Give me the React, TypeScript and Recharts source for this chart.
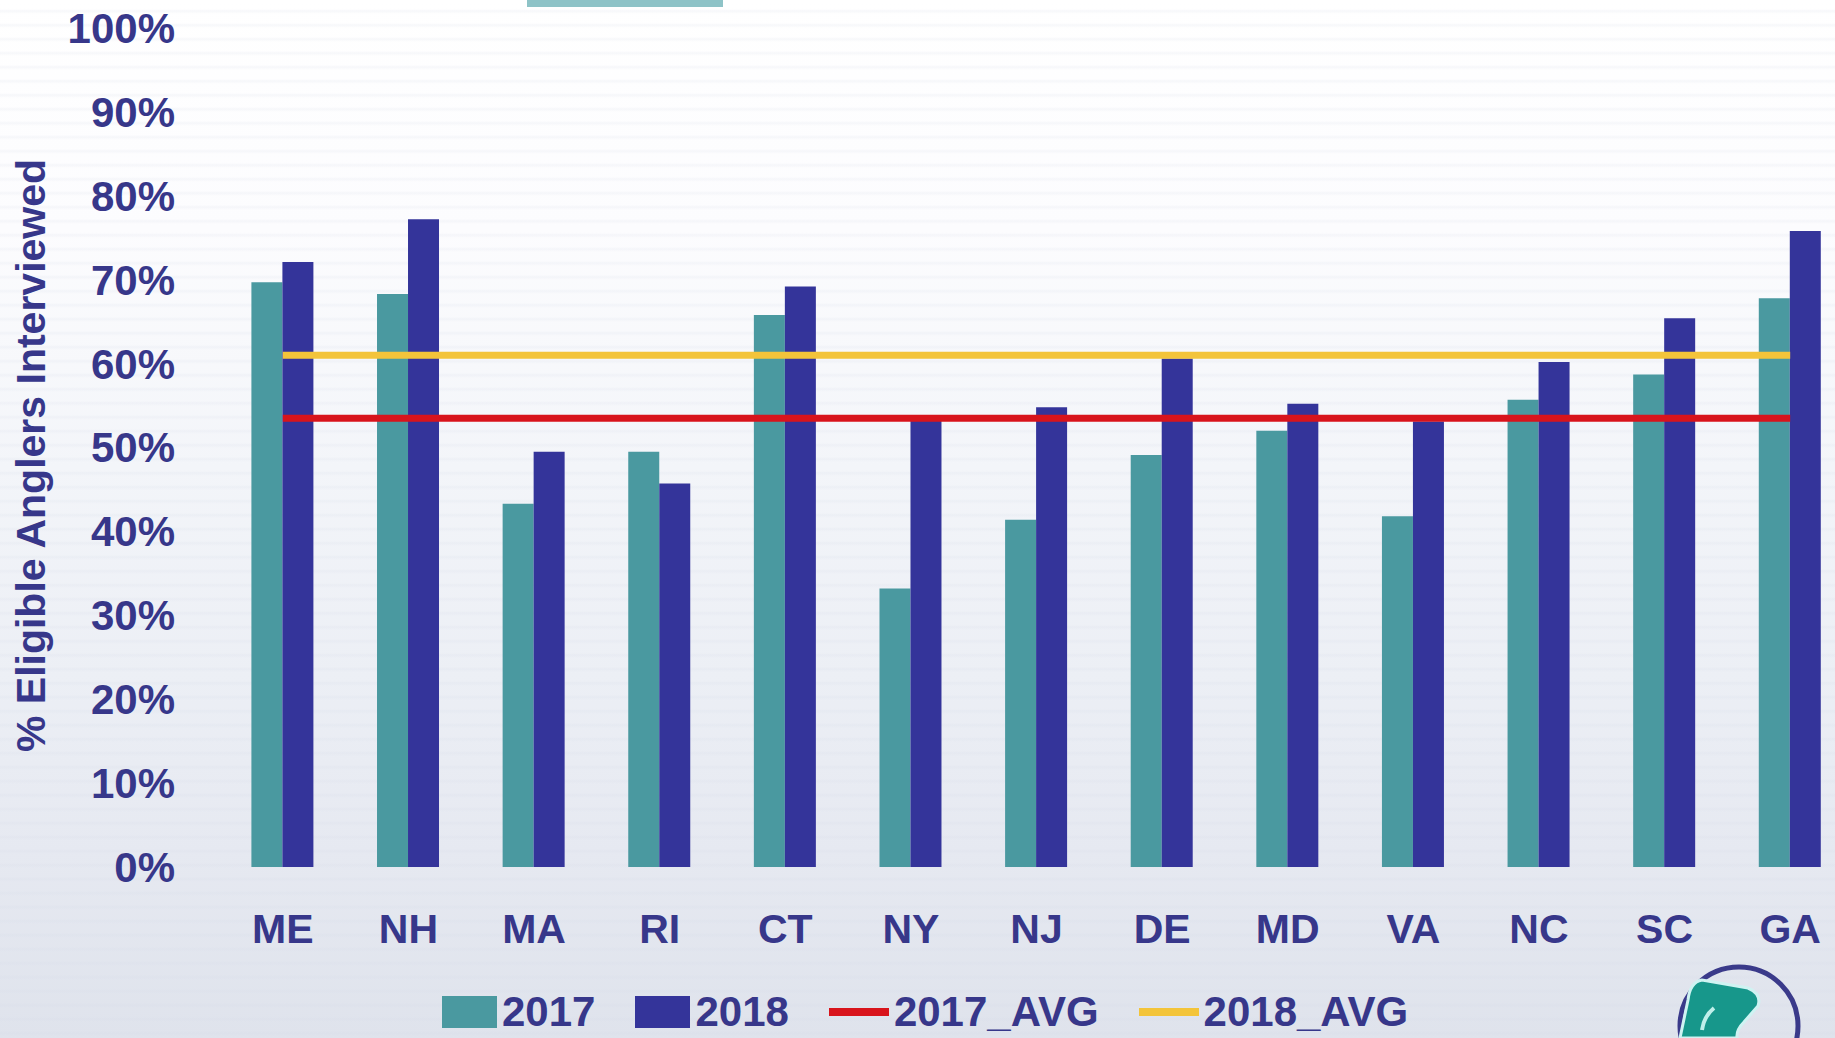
import React from 'react';
import { ComposedChart, Bar, Line, XAxis, YAxis } from 'recharts';

const states = ['ME', 'NH', 'MA', 'RI', 'CT', 'NY', 'NJ', 'DE', 'MD', 'VA', 'NC', 'SC', 'GA'];
const values2017 = [69.7, 68.3, 43.3, 49.5, 65.8, 33.2, 41.4, 49.1, 52.0, 41.8, 55.7, 58.7, 67.8];
const values2018 = [72.1, 77.2, 49.5, 45.7, 69.2, 53.3, 54.8, 60.6, 55.2, 53.1, 60.2, 65.4, 75.8];
const avg2017 = 53.5;
const avg2018 = 61.0;
const yTicks = [0, 10, 20, 30, 40, 50, 60, 70, 80, 90, 100];
const seriesNames = ['2017', '2018', '2017_AVG', '2018_AVG'];

const C2017 = '#4A99A0';
const C2018 = '#34349A';
const CRED = '#D8141C';
const CYEL = '#F3C43A';
const TXT = '#37378A';
const FONT = '"Liberation Sans", Arial, sans-serif';

const data = states.map((s, i) => ({
  state: s,
  v2017: values2017[i],
  v2018: values2018[i],
  a2017: avg2017,
  a2018: avg2018,
}));

const YLabel = (props: any) => {
  const vb = props.viewBox || {};
  const cy = vb.y + vb.height / 2 + 8;
  const x = 45;
  return (
    <text
      x={x}
      y={cy}
      transform={`rotate(-90, ${x}, ${cy})`}
      textAnchor="middle"
      fill={TXT}
      fontFamily={FONT}
      fontWeight="bold"
      fontSize={41}
    >
      % Eligible Anglers Interviewed
    </text>
  );
};

const legendItems = [
  { name: seriesNames[0], color: C2017, kind: 'rect' },
  { name: seriesNames[1], color: C2018, kind: 'rect' },
  { name: seriesNames[2], color: CRED, kind: 'line' },
  { name: seriesNames[3], color: CYEL, kind: 'line' },
];

export default function App() {
  return (
    <div
      style={{
        position: 'fixed',
        left: 0,
        top: 0,
        width: 1835,
        height: 1038,
        overflow: 'hidden',
        background:
          'linear-gradient(to bottom, #FFFFFF 0%, #FCFCFE 22%, #F3F5F9 45%, #ECEFF5 65%, #E6E9F1 82%, #DFE3EC 100%)',
      }}
    >
      <div
        style={{
          position: 'absolute',
          inset: 0,
          background:
            'repeating-linear-gradient(to bottom, rgba(255,255,255,0) 0px, rgba(255,255,255,0) 9px, rgba(210,216,230,0.18) 11px, rgba(255,255,255,0) 14px)',
        }}
      />
      <div
        style={{
          position: 'absolute',
          left: 527,
          top: 0,
          width: 196,
          height: 7,
          background: '#8EC3C7',
        }}
      />
      <div style={{ position: 'absolute', left: 0, top: 0 }}>
        <ComposedChart
          width={1860}
          height={1038}
          data={data}
          margin={{ top: 28, right: 7, bottom: 0, left: 0 }}
          barCategoryGap="25%"
          barGap={0}
        >
          <XAxis
            dataKey="state"
            height={171}
            axisLine={false}
            tickLine={false}
            tickSize={0}
            tickMargin={47}
            interval={0}
            tick={{ fill: TXT, fontFamily: FONT, fontWeight: 'bold', fontSize: 41 }}
          />
          <YAxis
            width={220}
            domain={[0, 100]}
            ticks={yTicks}
            interval={0}
            axisLine={false}
            tickLine={false}
            tickSize={0}
            tickMargin={45}
            tickFormatter={(v: number) => `${v}%`}
            tick={{ fill: TXT, fontFamily: FONT, fontWeight: 'bold', fontSize: 42 }}
            label={<YLabel />}
          />
          <Bar dataKey="v2017" name={seriesNames[0]} fill={C2017} isAnimationActive={false} />
          <Bar dataKey="v2018" name={seriesNames[1]} fill={C2018} isAnimationActive={false} />
          <Line
            dataKey="a2017"
            name={seriesNames[2]}
            type="linear"
            stroke={CRED}
            strokeWidth={7}
            dot={false}
            activeDot={false}
            isAnimationActive={false}
          />
          <Line
            dataKey="a2018"
            name={seriesNames[3]}
            type="linear"
            stroke={CYEL}
            strokeWidth={7}
            dot={false}
            activeDot={false}
            isAnimationActive={false}
          />
        </ComposedChart>
      </div>
      <div
        style={{
          position: 'absolute',
          left: 442,
          top: 990,
          height: 44,
          display: 'flex',
          alignItems: 'center',
          gap: 40,
          fontFamily: FONT,
          fontWeight: 'bold',
          fontSize: 42,
          color: TXT,
          lineHeight: '44px',
        }}
      >
        {legendItems.map((it) => (
          <div key={it.name} style={{ display: 'flex', alignItems: 'center', gap: 5 }}>
            {it.kind === 'rect' ? (
              <div style={{ width: 55, height: 32, background: it.color }} />
            ) : (
              <div style={{ width: 60, height: 8, background: it.color }} />
            )}
            <span>{it.name}</span>
          </div>
        ))}
      </div>
      <svg
        width={200}
        height={100}
        style={{ position: 'absolute', left: 1640, top: 938 }}
      >
        <circle cx={99} cy={88} r={59} fill="none" stroke="#3A3A8A" strokeWidth={5} />
        <path
          d="M40,100 L48,62 Q50,44 62,42 L108,50 Q122,56 118,68 L104,84 Q96,92 97,100 Z"
          fill="#17978B"
          stroke="#CFF3F2"
          strokeWidth={3}
        />
        <path d="M62,92 Q64,78 74,70" fill="none" stroke="#BFEFEA" strokeWidth={4} />
      </svg>
    </div>
  );
}
